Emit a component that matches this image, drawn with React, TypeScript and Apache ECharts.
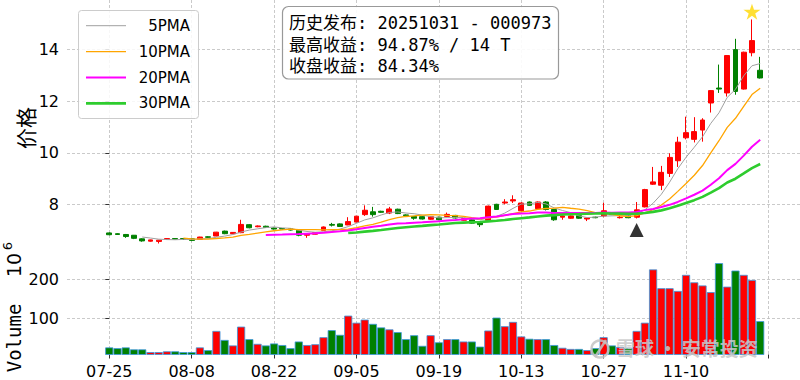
import React, { useEffect, useRef } from 'react';
import * as echarts from 'echarts';

const dates = [
  '07-25', '07-28', '07-29', '07-30', '07-31',
  '08-01', '08-04', '08-05', '08-06', '08-07', '08-08', '08-11', '08-12', '08-13', '08-14', '08-15',
  '08-18', '08-19', '08-20', '08-21', '08-22', '08-25', '08-26', '08-27', '08-28', '08-29',
  '09-01', '09-02', '09-03', '09-04', '09-05', '09-08', '09-09', '09-10', '09-11', '09-12',
  '09-15', '09-16', '09-17', '09-18', '09-19', '09-22', '09-23', '09-24', '09-25', '09-26',
  '09-29', '09-30', '10-09', '10-10', '10-13', '10-14', '10-15', '10-16', '10-17',
  '10-20', '10-21', '10-22', '10-23', '10-24', '10-27', '10-28', '10-29', '10-30', '10-31',
  '11-03', '11-04', '11-05', '11-06', '11-07', '11-10', '11-11', '11-12', '11-13', '11-14',
  '11-17', '11-18', '11-19', '11-20', '11-21',
];

const opens = [
  6.89, 6.86, 6.83, 6.80, 6.66, 6.57, 6.56, 6.64, 6.67, 6.67,
  6.66, 6.64, 6.74, 6.77, 6.96, 6.86, 6.90, 7.21, 7.13, 7.15,
  7.08, 7.06, 7.05, 6.99, 6.80, 6.84, 6.99, 7.22, 7.24, 7.20,
  7.31, 7.60, 7.71, 7.73, 7.66, 7.81, 7.59, 7.53, 7.52, 7.42,
  7.50, 7.53, 7.57, 7.38, 7.40, 7.31, 7.38, 8.00, 8.05, 8.13,
  7.75, 8.09, 7.83, 8.09, 7.80, 7.50, 7.46, 7.56, 7.43, 7.50,
  7.55, 7.62, 7.48, 7.56, 7.50, 7.90, 8.78, 8.74, 9.20, 9.69,
  10.58, 10.52, 10.88, 11.93, 12.51, 12.32, 14.00, 12.47, 13.88, 13.20,
];
const closes = [
  6.82, 6.83, 6.75, 6.68, 6.58, 6.62, 6.61, 6.67, 6.65, 6.64,
  6.60, 6.73, 6.72, 6.92, 6.86, 6.91, 7.22, 7.09, 7.16, 7.10,
  7.04, 7.04, 7.00, 6.80, 6.85, 6.90, 7.12, 7.19, 7.14, 7.33,
  7.54, 7.77, 7.60, 7.69, 7.82, 7.64, 7.56, 7.46, 7.43, 7.52,
  7.40, 7.61, 7.47, 7.44, 7.27, 7.21, 7.93, 7.80, 8.09, 8.18,
  8.05, 7.96, 8.09, 7.80, 7.40, 7.55, 7.55, 7.46, 7.47, 7.48,
  7.75, 7.60, 7.50, 7.48, 7.785, 8.57, 8.87, 9.24, 9.82, 10.41,
  10.78, 10.82, 11.27, 12.41, 12.47, 13.77, 12.38, 13.90, 14.35, 12.90,
];
const lows = [
  6.80, 6.81, 6.70, 6.65, 6.55, 6.55, 6.48, 6.62, 6.64, 6.63,
  6.57, 6.63, 6.70, 6.76, 6.84, 6.85, 6.88, 7.07, 7.11, 7.08,
  7.02, 7.02, 6.98, 6.76, 6.70, 6.83, 6.98, 7.14, 7.12, 7.19,
  7.30, 7.55, 7.52, 7.67, 7.62, 7.62, 7.54, 7.40, 7.41, 7.40,
  7.38, 7.51, 7.45, 7.36, 7.25, 7.12, 7.36, 7.78, 8.00, 8.05,
  7.72, 7.94, 7.81, 7.76, 7.36, 7.40, 7.44, 7.44, 7.35, 7.46,
  7.50, 7.58, 7.45, 7.46, 7.45, 7.88, 8.75, 8.55, 9.06, 9.45,
  10.52, 10.40, 10.43, 11.56, 12.32, 12.18, 12.25, 12.45, 13.74, 12.88,
];
const highs = [
  6.91, 6.88, 6.85, 6.81, 6.68, 6.63, 6.62, 6.69, 6.69, 6.68,
  6.67, 6.74, 6.76, 6.93, 6.98, 6.92, 7.40, 7.23, 7.18, 7.17,
  7.10, 7.08, 7.07, 7.00, 6.86, 6.92, 7.14, 7.28, 7.26, 7.50,
  7.55, 7.96, 7.90, 7.75, 7.90, 7.83, 7.61, 7.55, 7.54, 7.54,
  7.52, 7.68, 7.59, 7.46, 7.42, 7.33, 7.95, 8.02, 8.20, 8.35,
  8.08, 8.11, 8.11, 8.12, 7.82, 7.57, 7.57, 7.58, 7.49, 7.52,
  8.06, 7.64, 7.55, 7.58, 8.09, 8.60, 9.45, 9.49, 9.98, 10.62,
  11.40, 11.38, 11.34, 12.43, 13.42, 13.79, 14.42, 13.92, 15.17, 13.72,
];
// volume in millions (10^6)
const volumes = [
  26, 24, 26, 21, 21, 14, 14, 16, 16, 14,
  14, 26, 19, 68, 45, 31, 79, 47, 35, 31,
  36, 32, 24, 41, 32, 34, 52, 70, 58, 107,
  89, 97, 86, 77, 72, 65, 47, 57, 30, 57,
  39, 47, 47, 41, 41, 28, 69, 102, 80, 91,
  54, 48, 47, 47, 32, 25, 22, 22, 19, 24,
  52, 31, 27, 25, 68, 89, 225, 177, 177, 170,
  211, 192, 184, 167, 241, 181, 222, 211, 198, 93,
];

const maPeriods = [5, 10, 20, 30];
const maLabels = ['5PMA', '10PMA', '20PMA', '30PMA'];
const maColors = ['#a0a0a0', '#ffa500', '#ff00ff', '#2ecc2e'];
const maWidths = [1, 1.3, 2, 2.6];

const releaseIndex = 64;
const peakIndex = 78;
const infoLines = ['历史发布: 20251031 - 000973', '最高收益: 94.87% / 14 T', '收盘收益: 84.34%'];
const priceTicks = [8, 10, 12, 14];
const volumeTicks = [100, 200];
const xTickStep = 10;

const UP = '#ff0000';
const DOWN = '#008000';
const GRID_LINE = { show: true, lineStyle: { color: '#bdbdbd', width: 0.8, type: [3, 2] as any } };
const TICK_FONT = { fontSize: 16, fontFamily: 'DejaVu Sans', color: '#000' };
const STAR = 'path://M50,2 L61.8,38.2 L99,38.2 L69,60.5 L80.5,97 L50,74.5 L19.5,97 L31,60.5 L1,38.2 L38.2,38.2 Z';

function movingAverage(period: number) {
  const out: number[][] = [];
  for (let i = period - 1; i < closes.length; i++) {
    let s = 0;
    for (let k = i - period + 1; k <= i; k++) s += closes[k];
    out.push([i, s / period]);
  }
  return out;
}

export default function App() {
  const ref = useRef<HTMLDivElement>(null);
  useEffect(() => {
    if (!ref.current) return;
    const chart = echarts.init(ref.current, null, { renderer: 'svg' });
    const n = closes.length;
    const xTicks: number[] = [];
    for (let t = 0; t <= n; t += xTickStep) xTicks.push(t);
    const xLabelTicks = xTicks.filter((t) => t < n);
    const XMIN = -5.13;
    const XMAX = 83.83;

    const candleData = dates.map((_, i) => [i, opens[i], closes[i], lows[i], highs[i]]);
    const volData = volumes.map((v, i) => ({
      value: [i, v],
      itemStyle: { color: closes[i] >= opens[i] ? UP : DOWN },
    }));

    const graphic: any[] = [];
    // legend
    graphic.push({
      type: 'rect', z: 100,
      shape: { x: 78.5, y: 10.5, width: 120, height: 108, r: 3 },
      style: { fill: 'rgba(255,255,255,0.85)', stroke: '#cccccc', lineWidth: 1 },
    });
    maLabels.forEach((lab, j) => {
      const y = 25.7 + j * 25.9;
      graphic.push({
        type: 'line', z: 101,
        shape: { x1: 86, y1: y, x2: 126, y2: y },
        style: { stroke: maColors[j], lineWidth: maWidths[j] },
      });
      graphic.push({
        type: 'text', z: 101, x: 190, y,
        style: { text: lab, align: 'right', verticalAlign: 'middle', fontSize: 15, fontFamily: 'DejaVu Sans', fill: '#000' },
      });
    });
    // info box
    graphic.push({
      type: 'rect', z: 100,
      shape: { x: 282.5, y: 6.5, width: 276, height: 72.5, r: 6 },
      style: { fill: 'rgba(255,255,255,0.9)', stroke: '#999999', lineWidth: 1.2 },
    });
    infoLines.forEach((t, j) => {
      graphic.push({
        type: 'text', z: 101, x: 289, y: 23 + j * 21.5,
        style: { text: t, align: 'left', verticalAlign: 'middle', fontSize: 17, fontFamily: "'DejaVu Sans Mono', 'Noto Sans CJK SC'", fill: '#000' },
      });
    });
    // axis names
    graphic.push({
      type: 'text', x: 25, y: 128, rotation: Math.PI / 2,
      style: { text: '价格', align: 'center', verticalAlign: 'middle', fontSize: 21, fontFamily: 'Noto Sans CJK SC', fill: '#000' },
    });
    graphic.push({
      type: 'text', x: 13.5, y: 338, rotation: Math.PI / 2,
      style: { text: 'Volume', align: 'center', verticalAlign: 'middle', fontSize: 19, fontFamily: 'DejaVu Sans Mono', fill: '#000' },
    });
    graphic.push({
      type: 'text', x: 13.5, y: 265, rotation: Math.PI / 2,
      style: { text: '10', align: 'center', verticalAlign: 'middle', fontSize: 19, fontFamily: 'DejaVu Sans', fill: '#000' },
    });
    graphic.push({
      type: 'text', x: 7.5, y: 246, rotation: Math.PI / 2,
      style: { text: '6', align: 'center', verticalAlign: 'middle', fontSize: 13, fontFamily: 'DejaVu Sans', fill: '#000' },
    });
    // watermark
    graphic.push({
      type: 'circle', z: 120,
      shape: { cx: 600, cy: 349, r: 8.5 },
      style: { fill: 'none', stroke: 'rgba(195,195,195,0.85)', lineWidth: 2.5 },
    });
    graphic.push({
      type: 'line', z: 120,
      shape: { x1: 595, y1: 357, x2: 606, y2: 340 },
      style: { stroke: 'rgba(195,195,195,0.85)', lineWidth: 2.5 },
    });
    graphic.push({
      type: 'text', z: 120, x: 616, y: 347,
      style: { text: '雪球 · 安常投资', align: 'left', verticalAlign: 'middle', fontSize: 19, fontWeight: 'bold', fontFamily: 'Noto Sans CJK SC', fill: 'rgba(200,200,200,0.85)' },
    });

    const option: any = {
      animation: false,
      backgroundColor: '#ffffff',
      grid: [
        { left: 67, right: 0, top: 0, height: 246 },
        { left: 67, right: 0, top: 246, height: 108.5 },
      ],
      xAxis: [
        {
          gridIndex: 0, type: 'value', min: XMIN, max: XMAX,
          axisLine: { show: false },
          axisTick: { show: false, customValues: xTicks },
          axisLabel: { show: false, customValues: xLabelTicks },
          splitLine: GRID_LINE,
        },
        {
          gridIndex: 1, type: 'value', min: XMIN, max: XMAX,
          axisLine: { show: false },
          axisTick: { show: true, length: 4, customValues: xTicks, lineStyle: { color: '#333', width: 1 } },
          axisLabel: { ...TICK_FONT, margin: 9, customValues: xLabelTicks, formatter: (v: number) => dates[Math.round(v)] ?? '' },
          splitLine: GRID_LINE,
        },
      ],
      yAxis: [
        {
          gridIndex: 0, type: 'value', min: 6.383, max: 15.925,
          axisLine: { show: false },
          axisTick: { show: true, length: 4, customValues: priceTicks, lineStyle: { color: '#333', width: 1 } },
          axisLabel: { ...TICK_FONT, margin: 8, customValues: priceTicks },
          splitLine: GRID_LINE,
        },
        {
          gridIndex: 1, type: 'value', min: 7.9, max: 284.7,
          axisLine: { show: false },
          axisTick: { show: true, length: 4, customValues: volumeTicks, lineStyle: { color: '#333', width: 1 } },
          axisLabel: { ...TICK_FONT, margin: 8, customValues: volumeTicks },
          splitLine: GRID_LINE,
        },
      ],
      graphic,
      series: [
        {
          type: 'candlestick', name: 'price', xAxisIndex: 0, yAxisIndex: 0,
          data: candleData, barWidth: 5.4, z: 3,
          itemStyle: { color: UP, color0: DOWN, borderColor: UP, borderColor0: DOWN, borderWidth: 1 },
        },
        ...maPeriods.map((p, j) => ({
          type: 'line', name: maLabels[j], xAxisIndex: 0, yAxisIndex: 0,
          data: movingAverage(p), showSymbol: false, symbol: 'none', z: 4,
          lineStyle: { color: maColors[j], width: maWidths[j] },
        })),
        {
          type: 'bar', name: 'Volume', xAxisIndex: 1, yAxisIndex: 1,
          data: volData, barWidth: 8.1, clip: true, z: 3,
          itemStyle: { borderColor: '#3a96dd', borderWidth: 0.8 },
        },
        {
          type: 'scatter', name: 'peak', xAxisIndex: 0, yAxisIndex: 0, z: 6,
          data: [[peakIndex, highs[peakIndex] * 1.02]],
          symbol: STAR, symbolSize: [17, 16],
          itemStyle: { color: '#ffd700' },
        },
        {
          type: 'scatter', name: 'release', xAxisIndex: 0, yAxisIndex: 0, z: 6,
          data: [[releaseIndex, lows[releaseIndex] * 0.94]],
          symbol: 'triangle', symbolSize: [14, 14],
          itemStyle: { color: '#000000' },
        },
      ],
    };
    chart.setOption(option);
    return () => chart.dispose();
  }, []);
  return (
    <div
      ref={ref}
      style={{ position: 'fixed', left: 0, top: 0, width: 800, height: 380, background: '#fff' }}
    />
  );
}
